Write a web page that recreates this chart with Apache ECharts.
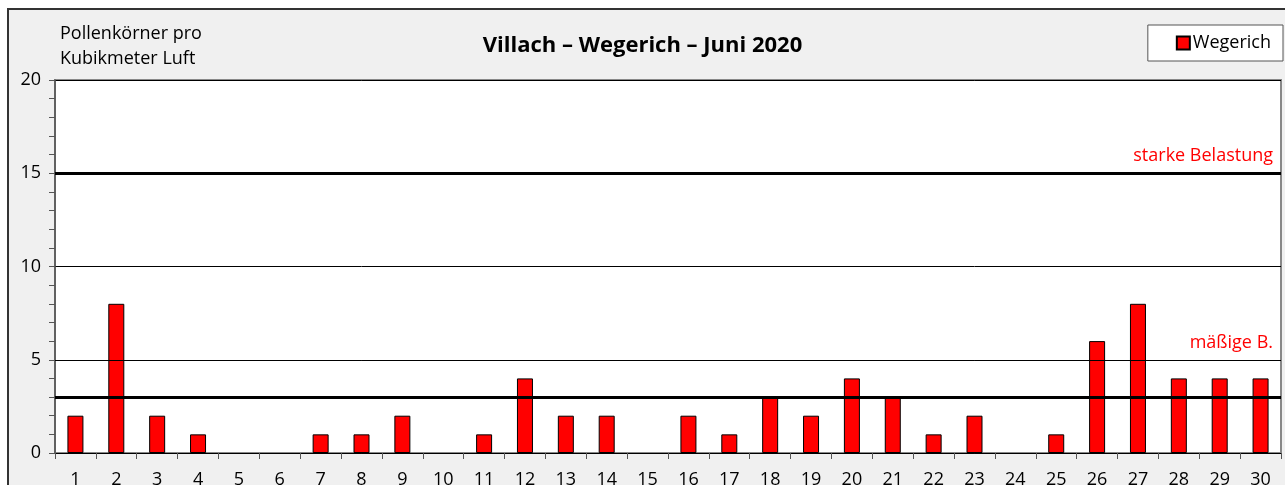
<!DOCTYPE html>
<html>
<head>
<meta charset="utf-8">
<script src="https://cdn.jsdelivr.net/npm/echarts@6/dist/echarts.min.js"></script>
<style>
  body { margin: 0; background: #fff; }
  #frame { position: absolute; left: 7px; top: 8px; width: 1290px; height: 490px;
           background: #f0f0f0; border-left: 2px solid #333; border-top: 2px solid #333; }
  #all { position: absolute; left: 0; top: 0; width: 1285px; height: 485px; }
</style>
</head>
<body>
<div id="frame"></div>
<div id="all"></div>
<script>
// Tage im Juni
var days = ['1','2','3','4','5','6','7','8','9','10','11','12','13','14','15',
            '16','17','18','19','20','21','22','23','24','25','26','27','28','29','30'];
// Pollenkörner pro m³
var wegerich = [2, 8, 2, 1, 0, 0, 1, 1, 2, 0, 1, 4, 2, 2, 0,
                2, 1, 3, 2, 4, 3, 1, 2, 0, 1, 6, 8, 4, 4, 4];
// Belastungsgrenzen
var starkeGrenze = 15;
var maessigGrenze = 3;
var yTicks = [0, 5, 10, 15, 20];

var myChart = echarts.init(document.getElementById('all'));

var fontName = '"Open Sans", sans-serif';

option = {
    backgroundColor: 'transparent',
    textStyle: { fontFamily: fontName },
    title: {
        text: 'Villach – Wegerich – Juni 2020',
        left: 'center',
        top: 30,
        textStyle: { fontSize: 22, fontWeight: 'bold', color: '#000', fontFamily: fontName }
    },
    legend: {
        right: 2,
        top: 25,
        padding: [9, 12, 9, 28],
        backgroundColor: '#fff',
        borderColor: '#555',
        borderWidth: 1,
        icon: 'rect',
        itemWidth: 13,
        itemHeight: 13,
        itemGap: 4,
        textStyle: { fontSize: 18, color: '#000', fontFamily: fontName, padding: [0, 0, 0, -2] },
        data: ['Wegerich']
    },
    grid: {
        left: 55,
        right: 4,
        top: 80,
        bottom: 32,
        containLabel: false,
        outerBoundsMode: 'none',
        show: true,
        backgroundColor: '#fff',
        borderColor: '#888',
        borderWidth: 2
    },
    xAxis: {
        type: 'category',
        data: days,
        axisLine: { lineStyle: { color: '#000', width: 1 } },
        axisTick: { show: true, length: 6, lineStyle: { color: '#555' } },
        axisLabel: { fontSize: 18, color: '#000', margin: 18 }
    },
    yAxis: {
        type: 'value',
        min: 0,
        max: 20,
        interval: 5,
        name: 'Pollenkörner pro\nKubikmeter Luft',
        nameLocation: 'end',
        nameGap: 9,
        nameTextStyle: { fontSize: 18, color: '#000', align: 'left', lineHeight: 25, padding: [0, 0, 0, 5] },
        axisLine: { show: true, lineStyle: { color: '#555', width: 1.5 } },
        axisTick: { show: true, length: 6, lineStyle: { color: '#555' } },
        minorTick: { show: true, splitNumber: 5, length: 6, lineStyle: { color: '#555' } },
        axisLabel: {
            fontSize: 18, color: '#000', margin: 14,
            formatter: function (v) { return yTicks.indexOf(v) >= 0 ? v : ''; }
        },
        splitLine: { lineStyle: { color: '#000', width: 1 } }
    },
    series: [
        {
            name: 'Wegerich',
            type: 'bar',
            // Nullwerte ohne Balkenrand
            data: wegerich.map(function (v) { return v === 0 ? '-' : v; }),
            barWidth: 16,
            itemStyle: { color: '#ff0000', borderColor: '#000', borderWidth: 1 },
            markLine: {
                symbol: 'none',
                silent: true,
                data: [
                    { yAxis: starkeGrenze, lineStyle: { color: '#000', width: 3, type: 'solid' },
                      label: { formatter: 'starke Belastung' } },
                    { yAxis: maessigGrenze, lineStyle: { color: '#000', width: 3, type: 'solid' },
                      label: { show: false } },
                    { yAxis: 5, lineStyle: { color: '#000', width: 1, type: 'solid' },
                      label: { formatter: 'mäßige B.' } }
                ],
                label: {
                    position: 'insideEndTop',
                    color: '#ff0000',
                    fontSize: 18,
                    distance: [8, 8]
                }
            }
        }
    ]
};

myChart.setOption(option);
window.onresize = myChart.resize;
</script>
</body>
</html>
